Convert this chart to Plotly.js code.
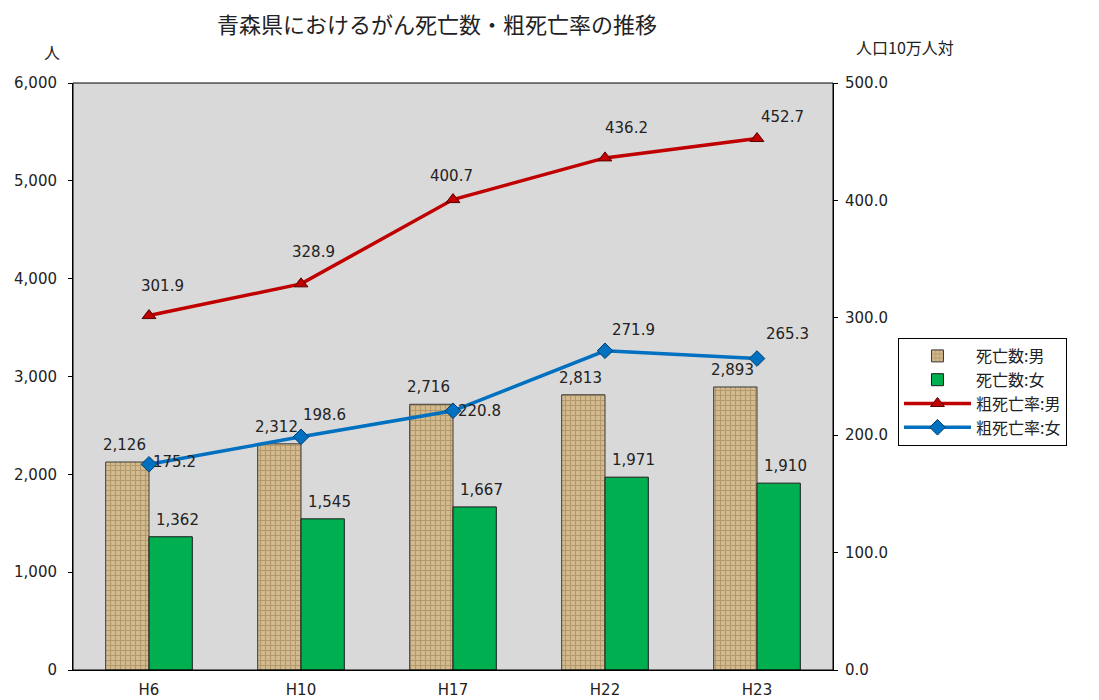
<!DOCTYPE html>
<html><head><meta charset="utf-8">
<script src="https://cdn.plot.ly/plotly-3.0.1.min.js"></script>
<style>body{margin:0;background:#fff}#c{width:1099px;height:700px}</style>
</head><body><div id="c"></div>
<script>
const categories = ['H6','H10','H17','H22','H23'];
const deathsMale = [2126, 2312, 2716, 2813, 2893];
const deathsFemale = [1362, 1545, 1667, 1971, 1910];
const rateMale = [301.9, 328.9, 400.7, 436.2, 452.7];
const rateFemale = [175.2, 198.6, 220.8, 271.9, 265.3];
const yTicks = [0,1000,2000,3000,4000,5000,6000];
const y2Ticks = [0,100,200,300,400,500];

const fontNum = {family:'DejaVu Sans, sans-serif', size:15, color:'#222'};
const fontJP = 'Noto Sans CJK JP, sans-serif';

const traces = [
 {type:'bar', name:'死亡数:男', x:categories, y:deathsMale,
  marker:{color:'#cdb488', line:{color:'#3a3a3a', width:1},
   pattern:{shape:'+', bgcolor:'#d3bb8f', fgcolor:'#94754a', size:5, solidity:0.4, fillmode:'overlay'}}},
 {type:'bar', name:'死亡数:女', x:categories, y:deathsFemale,
  marker:{color:'#00b050', line:{color:'#1a1a1a', width:1}}},
 {type:'scatter', mode:'lines+markers', name:'粗死亡率:男', x:categories, y:rateMale, yaxis:'y2',
  line:{color:'#c00000', width:3.5},
  marker:{symbol:'triangle-up', size:12, color:'#c00000', line:{color:'#5a0000', width:1}}},
 {type:'scatter', mode:'lines+markers', name:'粗死亡率:女', x:categories, y:rateFemale, yaxis:'y2',
  line:{color:'#0070c0', width:3.5},
  marker:{symbol:'diamond', size:12, color:'#0070c0', line:{color:'#003d6b', width:1}}}
];

const maleShift = [[13,30],[12,32],[-2,24],[21,30],[25,22]];
const femShift = [[25,2],[23,22],[26,0],[28,21],[30,25]];
const annotations = [];
function lab(x, y, yref, text, xs, ys){
  annotations.push({x:x, y:y, xref:'x', yref:yref, text:text, showarrow:false,
    xanchor:'center', yanchor:'middle', xshift:xs, yshift:ys, font:fontNum});
}
deathsMale.forEach((v,i)=>lab(categories[i], v, 'y', v.toLocaleString('en-US'), -25, 17));
deathsFemale.forEach((v,i)=>lab(categories[i], v, 'y', v.toLocaleString('en-US'), 28, 17));
rateMale.forEach((v,i)=>lab(categories[i], v, 'y2', v.toFixed(1), maleShift[i][0], maleShift[i][1]));
rateFemale.forEach((v,i)=>lab(categories[i], v, 'y2', v.toFixed(1), femShift[i][0], femShift[i][1]));
annotations.push({xref:'paper', yref:'paper', x:-0.0276, y:1.0528, xanchor:'center', yanchor:'middle',
  text:'人', showarrow:false, font:{family:fontJP, size:16, color:'#222'}});
annotations.push({xref:'paper', yref:'paper', x:1.0947, y:1.0613, xanchor:'center', yanchor:'middle',
  text:'人口10万人対', showarrow:false, font:{family:fontJP, size:16, color:'#222'}});

const layout = {
 width:1099, height:700,
 margin:{l:73, r:266, t:83, b:30},
 paper_bgcolor:'#fff', plot_bgcolor:'#d9d9d9',
 title:{text:'青森県におけるがん死亡数・粗死亡率の推移', x:0.3976, xanchor:'center', y:0.964, yanchor:'middle',
   font:{family:fontJP, size:22, color:'#222'}},
 barmode:'group', bargap:0.43, bargroupgap:0,
 showlegend:true,
 legend:{x:1.0855, y:0.5656, xanchor:'left', yanchor:'top', bgcolor:'#fff', bordercolor:'#000', borderwidth:1,
   font:{family:fontJP, size:16, color:'#222'}, itemwidth:67},
 xaxis:{showgrid:false, showline:true, linecolor:'#000', linewidth:1, tickfont:fontNum, ticks:'',
   ticklabelstandoff:6},
 yaxis:{range:[0,6000], tickvals:yTicks, tickformat:',', showgrid:false, zeroline:false, showline:true,
   linecolor:'#000', linewidth:1, tickfont:fontNum, ticks:'outside', ticklen:4, tickcolor:'#000', ticklabelstandoff:8},
 yaxis2:{range:[0,500], tickvals:y2Ticks, tickformat:'.1f', overlaying:'y', side:'right', showgrid:false,
   zeroline:false, showline:true, linecolor:'#000', linewidth:1, tickfont:fontNum, ticks:'outside', ticklen:4,
   tickcolor:'#000', ticklabelstandoff:4},
 annotations:annotations,
 shapes:[{type:'rect', xref:'paper', yref:'paper', x0:0, x1:1, y0:0, y1:1, line:{color:'#000', width:1}}]
};
Plotly.newPlot('c', traces, layout, {staticPlot:true});
</script></body></html>
